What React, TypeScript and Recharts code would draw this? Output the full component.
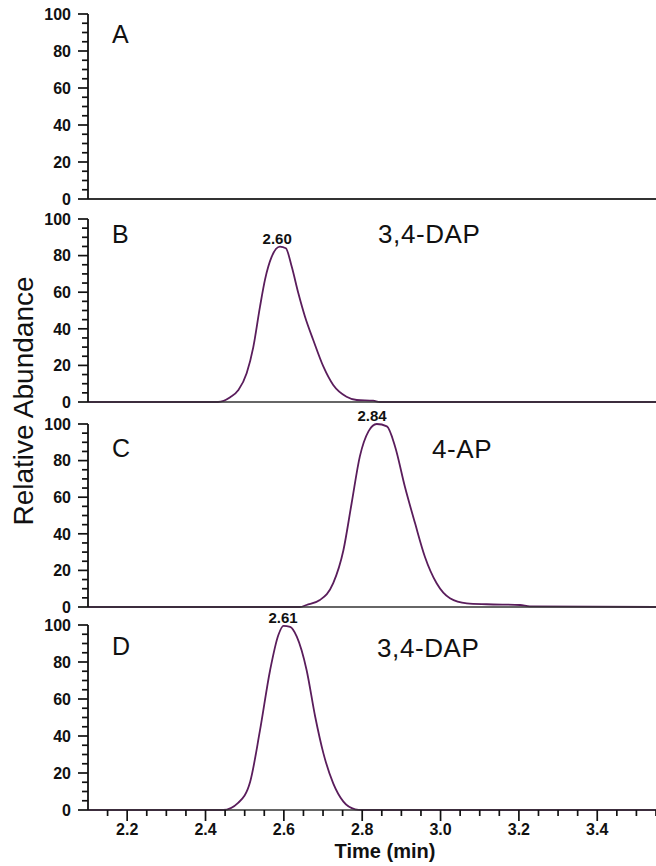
import { LineChart, Line, XAxis, YAxis, ReferenceDot, Label } from 'recharts';

// tick positions
const yTicks = [0, 5, 10, 15, 20, 25, 30, 35, 40, 45, 50, 55, 60, 65, 70, 75, 80, 85, 90, 95, 100];
const xTicks = [2.15, 2.2, 2.25, 2.3, 2.35, 2.4, 2.45, 2.5, 2.55, 2.6, 2.65, 2.7, 2.75, 2.8, 2.85, 2.9,
    2.95, 3.0, 3.05, 3.1, 3.15, 3.2, 3.25, 3.3, 3.35, 3.4, 3.45, 3.5, 3.55];
const xDomain = [2.1, 3.55];

// panel A: blank trace
const aTime = [2.1, 3.55];
const aAbundance = [0, 0];

// panel B: 3,4-DAP
const bTime = [2.1, 2.432, 2.463, 2.484, 2.505, 2.522, 2.539, 2.552, 2.569, 2.59, 2.605, 2.62, 2.637, 2.654, 2.675,
    2.701, 2.726, 2.76, 2.786, 2.828, 2.845, 3.55];
const bAbundance = [0, 0, 2.6, 6.5, 15.7, 30, 52, 67, 79.4, 84.9, 84, 74, 59.4, 46.6, 33.9,
    19.3, 9.3, 2.9, 1.1, 0.7, 0, 0];

// panel C: 4-AP
const cTime = [2.1, 2.641, 2.658, 2.692, 2.726, 2.752, 2.773, 2.794, 2.816, 2.837, 2.863, 2.884, 2.909, 2.935,
    2.96, 2.99, 3.024, 3.067, 3.118, 3.203, 3.228, 3.55];
const cAbundance = [0, 0, 1.1, 3.8, 13, 31, 56.7, 82.3, 96, 100, 98.7, 87.6, 65.7, 45.7,
    27.5, 13, 4.8, 2, 1.5, 1.1, 0.3, 0];

// panel D: 3,4-DAP
const dTime = [2.1, 2.445, 2.484, 2.514, 2.539, 2.565, 2.586, 2.599, 2.616, 2.633, 2.658, 2.68, 2.701, 2.726,
    2.752, 2.782, 2.799, 3.55];
const dAbundance = [0, 0, 4, 15.3, 43, 75.7, 94.6, 99.5, 99, 93.7, 75.7, 50.4, 30.6, 14.4,
    4.5, 0.4, 0, 0];

const FONT = '"Liberation Sans", Arial, sans-serif';
const LINE_COLOR = '#5a1d5c';
const AXIS_COLOR = '#111';

const toRows = (times: number[], values: number[]) => times.map((t, i) => ({ t, v: values[i] }));

const renderYTick = (props: any) => {
    const x = Number(props.x);
    const y = Number(props.y);
    const value = props.payload.value;
    const major = value % 20 === 0;
    return (
        <g>
            <path d={`M${x - (major ? 10 : 6)},${y}H${x}`} stroke={AXIS_COLOR} strokeWidth={1.7} fill="none" />
            {major && (
                <text x={x - 17} y={y} dy="0.36em" textAnchor="end" fontFamily={FONT} fontSize={16}
                    fontWeight="bold" fill={AXIS_COLOR} stroke="none">
                    {value}
                </text>
            )}
        </g>
    );
};

const renderXTick = (props: any) => {
    const x = Number(props.x);
    const y = Number(props.y);
    const value = props.payload.value;
    const major = Math.abs(value * 5 - Math.round(value * 5)) < 1e-6;
    return (
        <g>
            <path d={`M${x},${y}V${y + (major ? 11 : 6)}`} stroke={AXIS_COLOR} strokeWidth={1.7} fill="none" />
            {major && (
                <text x={x} y={y + 25} textAnchor="middle" fontFamily={FONT} fontSize={16}
                    fontWeight="bold" fill={AXIS_COLOR} stroke="none">
                    {value.toFixed(1)}
                </text>
            )}
        </g>
    );
};

interface PanelProps {
    y100: number;
    y0: number;
    data: { t: number; v: number }[];
    color?: string;
    peak?: { t: number; v: number; label: string };
    bottom?: boolean;
}

function Panel({ y100, y0, data, color = LINE_COLOR, peak, bottom = false }: PanelProps) {
    const marginTop = 20;
    const top = y100 - marginTop;
    const xHeight = bottom ? 56 : 1;
    const marginBottom = bottom ? 0 : 10;
    const height = (y0 - y100) + marginTop + xHeight + marginBottom;
    return (
        <div style={{ position: 'absolute', left: 0, top }}>
            <LineChart width={656} height={height} data={data}
                margin={{ top: marginTop, right: 0, bottom: marginBottom, left: 28 }}>
                <XAxis dataKey="t" type="number" domain={xDomain} allowDataOverflow
                    ticks={bottom ? xTicks : []} interval={0} height={xHeight}
                    tickSize={0} tickMargin={0} tickLine={false}
                    tick={bottom ? renderXTick : false}
                    axisLine={{ stroke: '#333', strokeWidth: 1.4 }}>
                    {bottom && (
                        <Label value="Time (min)" position="insideBottom" offset={8} dx={13}
                            style={{ fontFamily: FONT, fontSize: 20, fontWeight: 'bold', fill: AXIS_COLOR }} />
                    )}
                </XAxis>
                <YAxis type="number" domain={[0, 100]} ticks={yTicks} interval={0} width={60}
                    tickSize={0} tickMargin={0} tickLine={false} tick={renderYTick}
                    axisLine={{ stroke: AXIS_COLOR, strokeWidth: 1.8 }} />
                <Line type="monotone" dataKey="v" stroke={color} strokeWidth={1.8}
                    dot={false} isAnimationActive={false} />
                {peak && (
                    <ReferenceDot x={peak.t} y={peak.v} r={0} fill="none" stroke="none"
                        label={{
                            value: peak.label, position: 'top', offset: 3,
                            style: { fontFamily: FONT, fontSize: 15, fontWeight: 'bold', fill: AXIS_COLOR }
                        }} />
                )}
            </LineChart>
        </div>
    );
}

export default function App() {
    const textStyle = { fontFamily: FONT, fill: '#111' };
    return (
        <div style={{ position: 'absolute', left: 0, top: 0, width: 656, height: 866, background: '#fff' }}>
            <Panel y100={14} y0={199} data={toRows(aTime, aAbundance)} color="#333" />
            <Panel y100={219} y0={402} data={toRows(bTime, bAbundance)}
                peak={{ t: 2.583, v: 84.9, label: '2.60' }} />
            <Panel y100={424} y0={607} data={toRows(cTime, cAbundance)}
                peak={{ t: 2.825, v: 100, label: '2.84' }} />
            <Panel y100={625} y0={810} data={toRows(dTime, dAbundance)}
                peak={{ t: 2.598, v: 99.5, label: '2.61' }} bottom />
            <svg width={656} height={866} style={{ position: 'absolute', left: 0, top: 0, pointerEvents: 'none' }}>
                <text x={33} y={401} transform="rotate(-90 33 401)" textAnchor="middle" fontSize={28} {...textStyle}>
                    Relative Abundance
                </text>
                <text x={112} y={43} fontSize={25} {...textStyle}>A</text>
                <text x={112} y={243} fontSize={25} {...textStyle}>B</text>
                <text x={112} y={457} fontSize={25} {...textStyle}>C</text>
                <text x={112} y={655} fontSize={25} {...textStyle}>D</text>
                <text x={378} y={243} fontSize={26} letterSpacing={0.6} {...textStyle}>3,4-DAP</text>
                <text x={432} y={458} fontSize={26} letterSpacing={0.6} {...textStyle}>4-AP</text>
                <text x={377} y={657} fontSize={26} letterSpacing={0.6} {...textStyle}>3,4-DAP</text>
            </svg>
        </div>
    );
}
